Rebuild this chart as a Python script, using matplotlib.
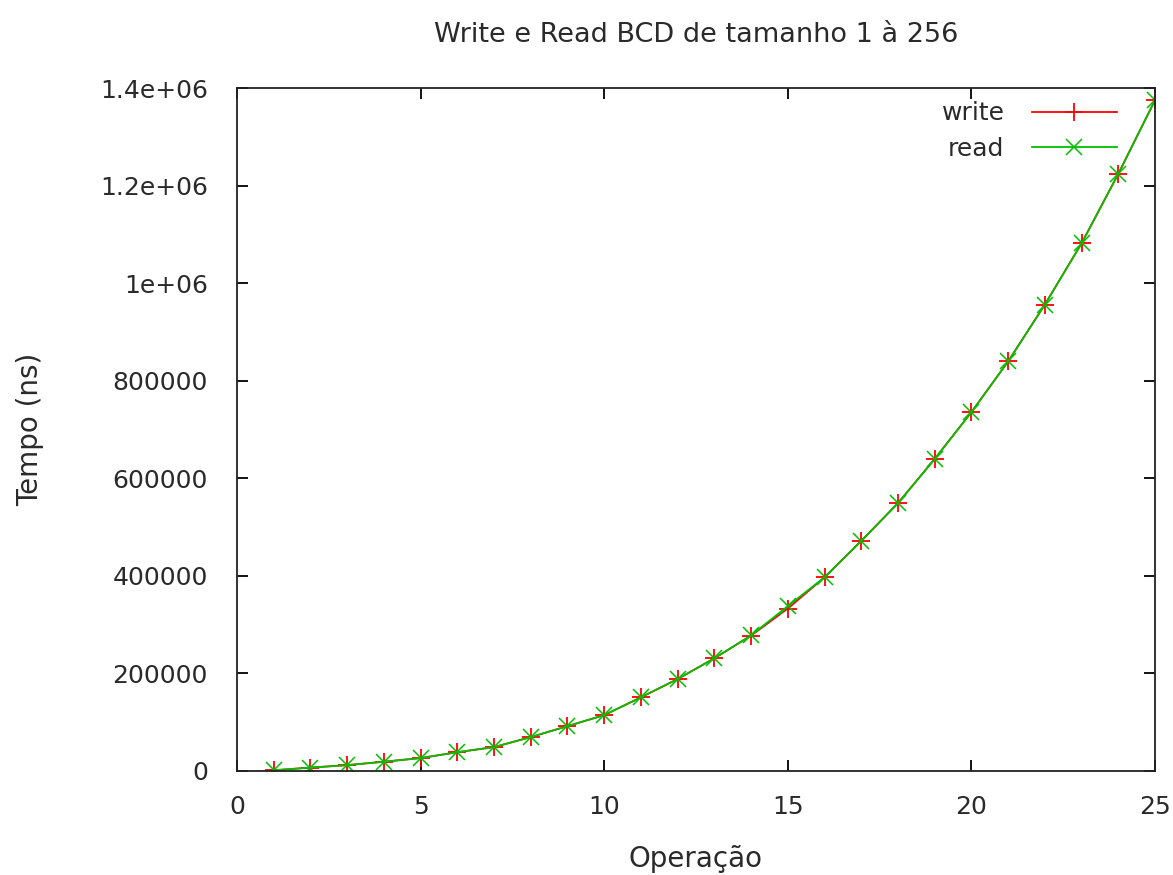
import matplotlib
matplotlib.use("Agg")
import matplotlib.pyplot as plt

plt.rcParams['font.family'] = ['DejaVu Sans']

operacao = list(range(1, 26))
write_ns = [1500, 7000, 12000, 19000, 26500, 38500, 49000, 69500, 92000, 114500,
            151000, 188500, 231000, 277500, 333000, 397000, 471500, 549000, 639500, 735500,
            839500, 956000, 1081500, 1224000, 1375000]
read_ns = [1500, 7000, 12000, 19000, 26500, 38500, 49000, 69500, 92000, 114500,
           151000, 188500, 231000, 278000, 338000, 397000, 471500, 549000, 639500, 735500,
           839500, 956000, 1081500, 1224000, 1375000]

x_ticks = [0, 5, 10, 15, 20, 25]
y_ticks = [0, 200000, 400000, 600000, 800000, 1000000, 1200000, 1400000]
y_tick_labels = ["0", "200000", "400000", "600000", "800000", "1e+06", "1.2e+06", "1.4e+06"]

title = "Write e Read BCD de tamanho 1 à 256"
xlabel = "Operação"
ylabel = "Tempo (ns)"

FS = 18
fig = plt.figure(figsize=(11.73, 8.75), dpi=100)
ax = fig.add_axes([237/1173, 1 - 771/875, (1155-237)/1173, (771-88)/875])

ax.plot(operacao, write_ns, color='#ff0000', lw=1.3, marker='+', ms=13, mew=1.3, label='write')
ax.plot(operacao, read_ns, color='#00c000', lw=1.3, marker='x', ms=11, mew=1.1, label='read')

ax.set_xlim(0, 25)
ax.set_ylim(0, 1400000)
ax.set_xticks(x_ticks)
ax.set_xticklabels([str(t) for t in x_ticks])
ax.set_yticks(y_ticks)
ax.set_yticklabels(y_tick_labels)

txtcol = '#2a2a2a'
ax.tick_params(direction='in', top=True, right=True, length=8, width=1.3,
               labelsize=FS, labelcolor=txtcol)
ax.tick_params(axis='x', pad=17)
ax.tick_params(axis='y', pad=21)
for s in ax.spines.values():
    s.set_linewidth(1.3)
    s.set_color('#222222')

ax.set_title(title, fontsize=19.5, color=txtcol, pad=33)
ax.set_xlabel(xlabel, fontsize=20, color=txtcol, labelpad=19)
ax.set_ylabel(ylabel, fontsize=20, color=txtcol, labelpad=40)

leg = ax.legend(loc='upper right', frameon=False, markerfirst=False, fontsize=FS,
                handlelength=3.4, handletextpad=1.1, borderaxespad=0, borderpad=0,
                labelspacing=0.45, bbox_to_anchor=(0.9586, 0.9806))
for t in leg.get_texts():
    t.set_color(txtcol)

fig.savefig('out.png', dpi=100)
